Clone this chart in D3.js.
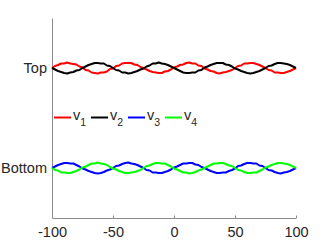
<!DOCTYPE html>
<html>
<head>
<meta charset="utf-8">
<script src="https://cdn.jsdelivr.net/npm/d3@7"></script>
<style>
  body { margin: 0; background: #fff; }
  svg { display: block; font-family: "Liberation Sans", Arial, sans-serif; }
</style>
</head>
<body>
<svg id="chart" width="327" height="245"></svg>
<script>
// x grid and the four traces
const xVals = d3.range(-100, 100.01, 2.5);

const v1 = [
  3.00, 3.04, 3.06, 3.09, 3.09, 3.11, 3.09, 3.08, 3.07, 3.03,
  3.01, 2.96, 2.95, 2.91, 2.90, 2.89, 2.91, 2.91, 2.93, 2.98,
  2.99, 3.04, 3.05, 3.09, 3.10, 3.10, 3.10, 3.07, 3.06, 3.02,
  3.00, 2.97, 2.94, 2.92, 2.91, 2.90, 2.90, 2.93, 2.94, 2.97,
  3.01, 3.03, 3.06, 3.07, 3.10, 3.11, 3.09, 3.09, 3.05, 3.04,
  2.99, 2.97, 2.94, 2.93, 2.90, 2.89, 2.91, 2.92, 2.94, 2.96,
  3.00, 3.04, 3.05, 3.09, 3.09, 3.10, 3.10, 3.08, 3.06, 3.03,
  3.00, 2.96, 2.95, 2.91, 2.91, 2.90, 2.90, 2.92, 2.94, 2.97,
  3.00
];
const v2 = [
  3.00, 2.97, 2.94, 2.92, 2.90, 2.89, 2.91, 2.92, 2.95, 2.96,
  3.00, 3.03, 3.06, 3.08, 3.10, 3.10, 3.09, 3.09, 3.05, 3.04,
  3.00, 2.96, 2.95, 2.91, 2.91, 2.89, 2.90, 2.92, 2.94, 2.97,
  2.99, 3.03, 3.05, 3.09, 3.09, 3.11, 3.09, 3.08, 3.06, 3.03,
  3.00, 2.97, 2.94, 2.91, 2.90, 2.90, 2.91, 2.91, 2.95, 2.96,
  3.01, 3.03, 3.06, 3.08, 3.10, 3.10, 3.10, 3.07, 3.06, 3.03,
  2.99, 2.97, 2.94, 2.92, 2.90, 2.89, 2.90, 2.92, 2.94, 2.97,
  3.00, 3.04, 3.05, 3.08, 3.10, 3.10, 3.09, 3.08, 3.06, 3.03,
  3.00
];
const v3 = [
  1.00, 1.03, 1.06, 1.08, 1.10, 1.10, 1.09, 1.09, 1.06, 1.03,
  0.99, 0.97, 0.94, 0.92, 0.90, 0.89, 0.90, 0.92, 0.95, 0.97,
  1.00, 1.04, 1.05, 1.08, 1.10, 1.11, 1.09, 1.08, 1.06, 1.03,
  1.00, 0.96, 0.95, 0.91, 0.91, 0.90, 0.90, 0.92, 0.94, 0.97,
  1.01, 1.03, 1.06, 1.09, 1.09, 1.10, 1.10, 1.07, 1.06, 1.02,
  1.00, 0.97, 0.94, 0.92, 0.90, 0.90, 0.91, 0.91, 0.94, 0.96,
  0.99, 1.04, 1.05, 1.08, 1.10, 1.10, 1.09, 1.09, 1.05, 1.04,
  1.00, 0.96, 0.95, 0.92, 0.90, 0.89, 0.91, 0.92, 0.94, 0.97,
  1.00
];
const v4 = [
  1.00, 0.96, 0.95, 0.91, 0.91, 0.90, 0.90, 0.92, 0.94, 0.97,
  1.01, 1.03, 1.06, 1.09, 1.09, 1.11, 1.09, 1.08, 1.06, 1.02,
  0.99, 0.97, 0.94, 0.92, 0.90, 0.90, 0.91, 0.92, 0.94, 0.96,
  1.00, 1.04, 1.05, 1.08, 1.10, 1.10, 1.09, 1.09, 1.06, 1.03,
  0.99, 0.97, 0.94, 0.91, 0.91, 0.89, 0.90, 0.92, 0.95, 0.97,
  1.00, 1.03, 1.06, 1.09, 1.09, 1.10, 1.10, 1.08, 1.05, 1.04,
  1.00, 0.96, 0.95, 0.92, 0.90, 0.90, 0.91, 0.91, 0.94, 0.97,
  1.01, 1.03, 1.06, 1.08, 1.10, 1.10, 1.09, 1.08, 1.06, 1.03,
  1.00
];

const seriesNames = ["1", "2", "3", "4"];
const seriesColors = ["#ff0000", "#000000", "#0000ff", "#00ff00"];
const xTicks = [-100, -50, 0, 50, 100];
const yTickVals = [1, 3];
const yTickLabels = ["Bottom", "Top"];

const margin = { top: 18, right: 31, bottom: 27, left: 52 };
const W = 327, H = 245;
const iw = W - margin.left - margin.right;
const ih = H - margin.top - margin.bottom;

const svg = d3.select("#chart");
const g = svg.append("g").attr("transform", `translate(${margin.left},${margin.top})`);

const x = d3.scaleLinear().domain([-100, 100]).range([0, iw]);
const y = d3.scaleLinear().domain([0, 4]).range([ih, 0]);

// axes (plain hyphen for negatives, as in the original)
const xAxis = g.append("g")
  .attr("transform", `translate(0,${ih})`)
  .call(d3.axisBottom(x).tickValues(xTicks).tickFormat(d => String(d))
    .tickSizeInner(-2.5).tickSizeOuter(0).tickPadding(9));
const yAxis = g.append("g")
  .call(d3.axisLeft(y).tickValues(yTickVals).tickFormat((d, i) => yTickLabels[i])
    .tickSizeInner(-2.5).tickSizeOuter(0).tickPadding(5));

[xAxis, yAxis].forEach(a => {
  a.select(".domain").attr("stroke", "#8c8c8c").attr("stroke-width", 1);
  a.selectAll(".tick line").attr("stroke", "#8c8c8c");
  a.selectAll(".tick text").attr("fill", "#262626").style("font-size", "14.5px")
    .style("font-family", "'Liberation Sans', Arial, sans-serif");
});

// lines
const allSeries = [v1, v2, v3, v4];
const line = d3.line().x((d, i) => x(xVals[i])).y(d => y(d));
g.append("g").selectAll("path")
  .data(allSeries)
  .enter()
  .append("path")
  .attr("d", line)
  .attr("fill", "none")
  .attr("stroke", (d, i) => seriesColors[i])
  .attr("stroke-width", 2)
  .attr("stroke-linejoin", "round");

// legend
const legendY = 117.5;
const legendX = [54, 91, 128, 165];
const leg = svg.append("g").selectAll("g")
  .data(seriesNames)
  .enter()
  .append("g")
  .attr("transform", (d, i) => `translate(${legendX[i]},${legendY})`);
leg.append("line")
  .attr("x1", 0).attr("x2", 17)
  .attr("y1", 0).attr("y2", 0)
  .attr("stroke", (d, i) => seriesColors[i])
  .attr("stroke-width", 2);
const lt = leg.append("text")
  .attr("x", 19).attr("y", 2)
  .attr("fill", "#262626")
  .style("font-size", "14.5px");
lt.append("tspan").text("v");
lt.append("tspan").attr("dy", 6).style("font-size", "10.5px").text(d => d);
</script>
</body>
</html>
